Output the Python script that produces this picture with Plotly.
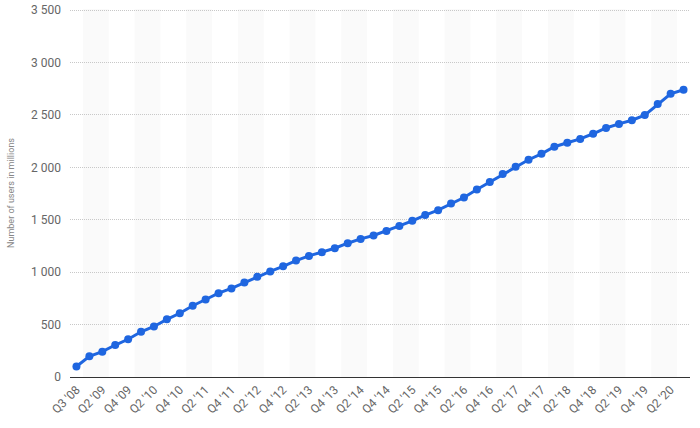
import plotly.graph_objects as go

quarters = ["Q3 '08", "Q1 '09", "Q2 '09", "Q3 '09", "Q4 '09",
            "Q1 '10", "Q2 '10", "Q3 '10", "Q4 '10",
            "Q1 '11", "Q2 '11", "Q3 '11", "Q4 '11",
            "Q1 '12", "Q2 '12", "Q3 '12", "Q4 '12",
            "Q1 '13", "Q2 '13", "Q3 '13", "Q4 '13",
            "Q1 '14", "Q2 '14", "Q3 '14", "Q4 '14",
            "Q1 '15", "Q2 '15", "Q3 '15", "Q4 '15",
            "Q1 '16", "Q2 '16", "Q3 '16", "Q4 '16",
            "Q1 '17", "Q2 '17", "Q3 '17", "Q4 '17",
            "Q1 '18", "Q2 '18", "Q3 '18", "Q4 '18",
            "Q1 '19", "Q2 '19", "Q3 '19", "Q4 '19",
            "Q1 '20", "Q2 '20", "Q3 '20"]
users = [100, 197, 242, 305, 360,
         431, 482, 550, 608,
         680, 739, 800, 845,
         901, 955, 1007, 1056,
         1110, 1155, 1189, 1228,
         1276, 1317, 1350, 1393,
         1441, 1490, 1545, 1591,
         1654, 1712, 1788, 1860,
         1936, 2006, 2072, 2129,
         2196, 2234, 2271, 2320,
         2375, 2414, 2449, 2498,
         2603, 2701, 2740]
y_ticks = [0, 500, 1000, 1500, 2000, 2500, 3000, 3500]
y_tick_labels = ["0", "500", "1 000", "1 500", "2 000", "2 500", "3 000", "3 500"]

n = len(quarters)
xs = list(range(n))
tick_pos = xs[::2]
tick_text = quarters[::2]

fig = go.Figure()
fig.add_trace(go.Scatter(
    x=xs, y=users, mode="lines+markers",
    line=dict(color="#1f66e0", width=3),
    marker=dict(color="#1f66e0", size=8),
    hoverinfo="skip", showlegend=False, cliponaxis=False,
))

shapes = []
k = 0.5
while k < n:
    shapes.append(dict(type="rect", xref="x", yref="paper",
                       x0=k, x1=min(k + 2, n - 0.5), y0=0, y1=1,
                       fillcolor="#fafafa", line=dict(width=0), layer="below"))
    k += 4

fig.update_layout(
    width=700, height=428,
    margin=dict(l=70, r=10, t=9, b=51),
    paper_bgcolor="white", plot_bgcolor="white",
    font=dict(family="Roboto, Arial, sans-serif", color="#666", size=11),
    shapes=shapes,
    xaxis=dict(range=[-0.5, n - 0.5], tickmode="array", tickvals=tick_pos,
               ticktext=tick_text, tickangle=-45, showgrid=False, zeroline=False,
               showline=True, linecolor="#333", linewidth=1, ticks="",
               automargin=False,
               tickfont=dict(size=12, color="#666")),
    yaxis=dict(range=[0, 3510], tickmode="array", tickvals=y_ticks,
               ticktext=y_tick_labels, showgrid=True, gridcolor="#c8c8c8",
               griddash="1px,1px", gridwidth=1, zeroline=False, ticks="",
               ticklabelstandoff=8, automargin=False,
               title=dict(text="Number of users in millions",
                          font=dict(size=9, color="#888"), standoff=14),
               tickfont=dict(size=12, color="#666")),
)

fig.write_html("out.html", config={"displayModeBar": False},
               post_script="document.body.style.margin='0';")
